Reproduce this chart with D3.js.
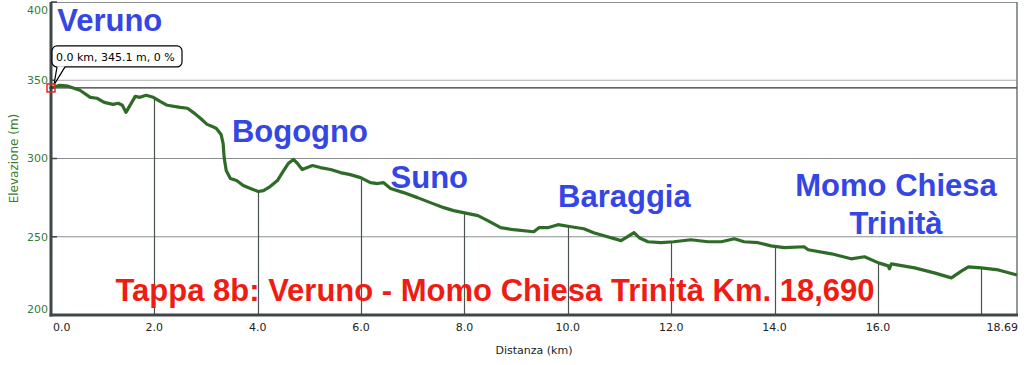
<!DOCTYPE html>
<html>
<head>
<meta charset="utf-8">
<script src="https://cdn.jsdelivr.net/npm/d3@7"></script>
<style>
  body { margin: 0; background: #fff; }
  svg { display: block; }
</style>
</head>
<body>
<div id="chart"></div>
<script>
// Profile data (distance km, elevation m)
const distKm = [0.00, 0.17, 0.33, 0.56, 0.76, 0.89, 1.03, 1.20, 1.30, 1.38, 1.45, 1.63, 1.72, 1.84, 1.98,
  2.11, 2.25, 2.50, 2.64, 2.75, 2.89, 3.02, 3.12, 3.20, 3.29, 3.33, 3.35, 3.39, 3.47, 3.59, 3.72, 3.86,
  4.01, 4.11, 4.24, 4.38, 4.50, 4.59, 4.69, 4.77, 4.86, 5.06, 5.21, 5.41, 5.60, 5.79, 5.99,
  6.18, 6.32, 6.43, 6.57, 6.82, 7.09, 7.34, 7.60, 7.79, 7.98, 8.26, 8.45, 8.70, 8.95, 9.34, 9.44, 9.61, 9.81,
  10.06, 10.31, 10.50, 10.70, 11.03, 11.18, 11.28, 11.38, 11.55, 11.80, 12.05, 12.38, 12.71, 12.97, 13.22,
  13.41, 13.68, 13.93, 14.19, 14.57, 14.65, 15.10, 15.48, 15.74, 16.01, 16.20, 16.22, 16.26, 16.71, 17.09,
  17.42, 17.62, 17.75, 18.00, 18.33, 18.69];
const elevM = [345.1, 346.8, 346.2, 343.6, 339.1, 338.5, 335.9, 334.6, 335.3, 334.0, 329.5, 339.7, 339.1, 340.4, 339.1,
  336.5, 334.0, 332.7, 332.1, 329.5, 325.7, 321.8, 320.5, 319.2, 315.4, 309.6, 300.6, 292.3, 287.2, 285.9, 282.7, 280.8,
  278.9, 279.5, 282.1, 285.9, 292.3, 296.8, 299.4, 296.8, 293.0, 295.5, 294.2, 293.0, 291.0, 289.7, 287.8,
  284.6, 284.0, 284.6, 280.8, 278.2, 275.0, 271.8, 268.6, 266.7, 265.4, 263.5, 260.3, 255.8, 254.5, 253.2, 255.8, 255.8, 257.7,
  256.4, 255.1, 252.6, 250.6, 247.5, 250.6, 252.6, 249.4, 246.8, 246.2, 246.8, 248.1, 246.8, 246.8, 248.7,
  246.8, 246.2, 244.2, 243.0, 243.6, 241.7, 239.1, 235.9, 237.2, 233.3, 231.4, 229.5, 232.7, 230.1, 226.9,
  223.7, 228.2, 230.8, 230.1, 228.8, 225.6];

const xTicks = [0, 2, 4, 6, 8, 10, 12, 14, 16, 18.69];
const xTickLabels = ['0.0', '2.0', '4.0', '6.0', '8.0', '10.0', '12.0', '14.0', '16.0', '18.69'];
const dropKm = [2, 4, 6, 8, 10, 12, 14, 16, 18];
const yTicks = [200, 250, 300, 350, 400];

const places = [
  { name: 'Veruno', km: 0.12, m: 381.5 },
  { name: 'Bogogno', km: 3.50, m: 310.5 },
  { name: 'Suno', km: 6.57, m: 281.0 },
  { name: 'Baraggia', km: 9.81, m: 269.0 },
  { name: 'Momo Chiesa', km: 16.35, m: 276.0, anchor: 'middle' },
  { name: 'Trinità', km: 16.35, m: 251.5, anchor: 'middle' }
];
const title = 'Tappa 8b: Veruno - Momo Chiesa Trinità Km. 18,690';

// Dimensions
const W = 1024, H = 365;
const margin = { top: 2, right: 7, bottom: 50, left: 51 };
const width = W - margin.left - margin.right;
const height = H - margin.top - margin.bottom;

const svg = d3.select('#chart').append('svg')
  .attr('width', W)
  .attr('height', H);

const g = svg.append('g')
  .attr('transform', `translate(${margin.left},${margin.top})`);

const x = d3.scaleLinear().domain([0, 18.69]).range([0, width]);
const y = d3.scaleLinear().domain([200, 400]).range([height, 0]);

const data = distKm.map((d, i) => ({ km: d, m: elevM[i] }));
const elevAt = km => {
  const i = d3.bisector(d => d.km).left(data, km);
  if (i <= 0) return data[0].m;
  if (i >= data.length) return data[data.length - 1].m;
  const a = data[i - 1], b = data[i];
  return a.m + (b.m - a.m) * (km - a.km) / (b.km - a.km);
};

// Horizontal grid
g.selectAll('.hgrid')
  .data([250, 300, 350])
  .enter().append('line')
  .attr('x1', 0).attr('x2', width)
  .attr('y1', d => y(d)).attr('y2', d => y(d))
  .attr('stroke', d => d === 350 ? '#aaa' : '#8a8f8f')
  .attr('stroke-width', 1);

// Top and right border
g.append('line').attr('x1', 0).attr('x2', width).attr('y1', 0.5).attr('y2', 0.5)
  .attr('stroke', '#8a8f8f');
g.append('line').attr('x1', width).attr('x2', width).attr('y1', 0).attr('y2', height)
  .attr('stroke', '#6f7777').attr('stroke-width', 1.5);

// Drop lines from profile
g.selectAll('.drop')
  .data(dropKm)
  .enter().append('line')
  .attr('x1', d => Math.round(x(d)) + 0.5).attr('x2', d => Math.round(x(d)) + 0.5)
  .attr('y1', d => y(elevAt(d))).attr('y2', height)
  .attr('stroke', '#4a5252')
  .attr('stroke-width', 1.2);

// Cursor line at start elevation
g.append('line')
  .attr('x1', 0).attr('x2', width)
  .attr('y1', y(elevM[0])).attr('y2', y(elevM[0]))
  .attr('stroke', '#333')
  .attr('stroke-width', 1.2);

// Profile line
g.append('path')
  .datum(data)
  .attr('fill', 'none')
  .attr('stroke', '#2d6b27')
  .attr('stroke-width', 3.2)
  .attr('stroke-linejoin', 'round')
  .attr('d', d3.line().x(d => x(d.km)).y(d => y(d.m)));

// Axes
g.append('line').attr('x1', 0).attr('x2', 0).attr('y1', 0).attr('y2', height + 1.5)
  .attr('stroke', '#3f4848').attr('stroke-width', 3);
g.append('line').attr('x1', -1.5).attr('x2', width + 1).attr('y1', height).attr('y2', height)
  .attr('stroke', '#3f4848').attr('stroke-width', 3);

// Y ticks
g.selectAll('.ytick')
  .data(yTicks)
  .enter().append('line')
  .attr('x1', 0).attr('x2', 6)
  .attr('y1', d => y(d)).attr('y2', d => y(d))
  .attr('stroke', '#3f4848').attr('stroke-width', 1.5);

g.selectAll('.ylabel')
  .data(yTicks)
  .enter().append('text')
  .attr('x', -3)
  .attr('y', d => Math.min(Math.max(y(d), 8), height - 6))
  .attr('dy', '0.35em')
  .attr('text-anchor', 'end')
  .attr('fill', '#3b7d2f')
  .style('font-family', '"DejaVu Sans", Verdana, sans-serif')
  .style('font-size', '11px')
  .text(d => d);

// X tick labels
g.selectAll('.xlabel')
  .data(xTicks)
  .enter().append('text')
  .attr('x', (d, i) => i === 0 ? x(d) + 2 : (i === xTicks.length - 1 ? x(d) + 1 : x(d)))
  .attr('y', height + 16)
  .attr('text-anchor', (d, i) => i === 0 ? 'start' : (i === xTicks.length - 1 ? 'end' : 'middle'))
  .attr('fill', '#222')
  .style('font-family', '"DejaVu Sans", Verdana, sans-serif')
  .style('font-size', '11px')
  .text((d, i) => xTickLabels[i]);

// Axis titles
g.append('text')
  .attr('x', width / 2)
  .attr('y', height + 39)
  .attr('text-anchor', 'middle')
  .attr('fill', '#222')
  .style('font-family', '"DejaVu Sans", Verdana, sans-serif')
  .style('font-size', '11px')
  .text('Distanza (km)');

svg.append('text')
  .attr('transform', `translate(18,${margin.top + y(300)}) rotate(-90)`)
  .attr('text-anchor', 'middle')
  .attr('fill', '#3b7d2f')
  .style('font-family', '"DejaVu Sans", Verdana, sans-serif')
  .style('font-size', '12px')
  .text('Elevazione (m)');

// Place names
g.selectAll('.place')
  .data(places)
  .enter().append('text')
  .attr('x', d => x(d.km))
  .attr('y', d => y(d.m))
  .attr('text-anchor', d => d.anchor || 'start')
  .attr('fill', '#3446e4')
  .style('font-family', '"Liberation Sans", Arial, sans-serif')
  .style('font-weight', 'bold')
  .style('font-size', '31px')
  .text(d => d.name);

// Title
g.append('text')
  .attr('x', x(8.59))
  .attr('y', y(209))
  .attr('text-anchor', 'middle')
  .attr('fill', '#ee1c12')
  .style('font-family', '"Liberation Sans", Arial, sans-serif')
  .style('font-weight', 'bold')
  .style('font-size', '31px')
  .text(title);

// Tooltip at start point
const px = x(0), py = y(elevM[0]);
const tip = g.append('g');
tip.append('rect')
  .attr('x', 1).attr('y', py - 42)
  .attr('width', 130).attr('height', 21)
  .attr('rx', 5)
  .attr('fill', '#fff')
  .attr('stroke', '#000')
  .attr('stroke-width', 1.2);
// tail of the callout
tip.append('path')
  .attr('d', `M${px + 6},${py - 21.6} L${px + 3},${py - 3} L${px + 14},${py - 21.6}`)
  .attr('fill', '#fff')
  .attr('stroke', 'none');
tip.append('path')
  .attr('d', `M${px + 6},${py - 21} L${px + 3},${py - 3} M${px + 3},${py - 3} L${px + 14},${py - 21}`)
  .attr('fill', 'none')
  .attr('stroke', '#000')
  .attr('stroke-width', 1.2);
tip.append('text')
  .attr('x', 5)
  .attr('y', py - 27)
  .attr('fill', '#000')
  .style('font-family', '"DejaVu Sans", Verdana, sans-serif')
  .style('font-size', '11px')
  .text(`${distKm[0].toFixed(1)} km, ${elevM[0].toFixed(1)} m, 0 %`);

// Marker
tip.append('rect')
  .attr('x', px - 4).attr('y', py - 4)
  .attr('width', 8).attr('height', 8)
  .attr('fill', 'none')
  .attr('stroke', '#e22')
  .attr('stroke-width', 1.5);
tip.append('path')
  .attr('d', `M${px - 2},${py} L${px + 2},${py} M${px},${py - 2} L${px},${py + 2}`)
  .attr('stroke', '#333')
  .attr('stroke-width', 1);
</script>
</body>
</html>
